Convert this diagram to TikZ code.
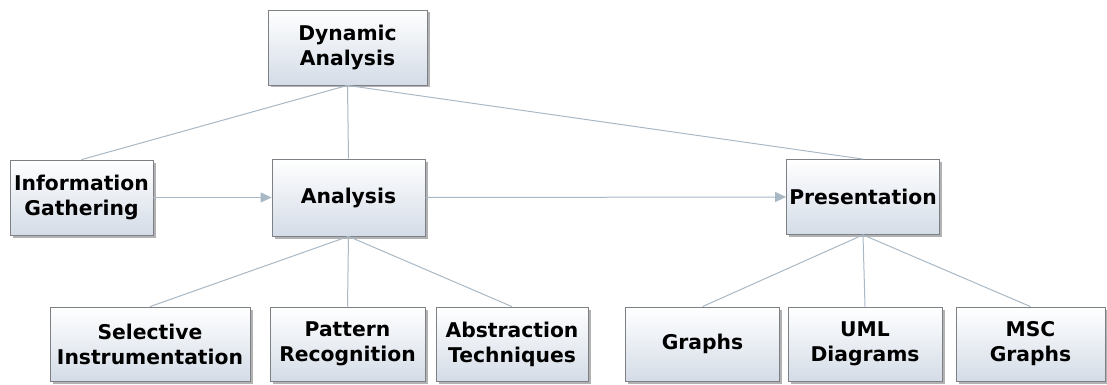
\documentclass[tikz,border=0pt]{standalone}
\usepackage{fontspec}
\setmainfont{DejaVu Sans}
\usetikzlibrary{shadows,arrows.meta}
\definecolor{linec}{RGB}{168,184,197}
\definecolor{boxbot}{RGB}{212,220,231}
\definecolor{boxedge}{RGB}{125,128,132}
\tikzset{
  box/.style={draw=boxedge, line width=0.8pt, top color=white, bottom color=boxbot,
    align=center, font=\fontsize{20.3}{25}\selectfont\bfseries, inner sep=0pt,
    minimum height=75pt,
    drop shadow={shadow xshift=2.5pt, shadow yshift=-2.5pt, fill=black!55, opacity=0.55}},
  conn/.style={draw=linec, line width=1pt},
  arr/.style={draw=linec, line width=1pt, -{Triangle[length=11pt,width=10pt,fill=linec]}}
}
\begin{document}
\begin{tikzpicture}[x=1pt,y=-1pt]
\useasboundingbox (0,0) rectangle (1107,385);
\node[box, minimum width=159pt] (da) at (347.5,47.5) {Dynamic\\Analysis};
\node[box, minimum width=143pt] (ig) at (81.5,197.5) {Information\\Gathering};
\node[box, minimum width=153pt, minimum height=77pt] (an) at (348.5,197.5) {Analysis};
\node[box, minimum width=153pt] (pr) at (863,197) {Presentation};
\node[box, minimum width=200pt, minimum height=74pt] (si) at (150,344) {Selective\\Instrumentation};
\node[box, minimum width=155pt, minimum height=74pt] (pa) at (347.5,344) {Pattern\\Recognition};
\node[box, minimum width=152pt, minimum height=74pt] (ab) at (512,344) {Abstraction\\Techniques};
\node[box, minimum width=154pt, minimum height=74pt] (gr) at (702.5,344) {Graphs};
\node[box, minimum width=154pt, minimum height=74pt] (um) at (865,344) {UML\\Diagrams};
\node[box, minimum width=149pt, minimum height=74pt] (ms) at (1030.5,344) {MSC\\Graphs};
\draw[conn] (da.south) -- (ig.north);
\draw[conn] (da.south) -- (an.north);
\draw[conn] (da.south) -- (pr.north);
\draw[conn] (an.south) -- (si.north);
\draw[conn] (an.south) -- (pa.north);
\draw[conn] (an.south) -- (ab.north);
\draw[conn] (pr.south) -- (gr.north);
\draw[conn] (pr.south) -- (um.north);
\draw[conn] (pr.south) -- (ms.north);
\draw[arr] (ig.east) -- (an.west);
\draw[arr] (an.east) -- (pr.west);
\end{tikzpicture}
\end{document}
